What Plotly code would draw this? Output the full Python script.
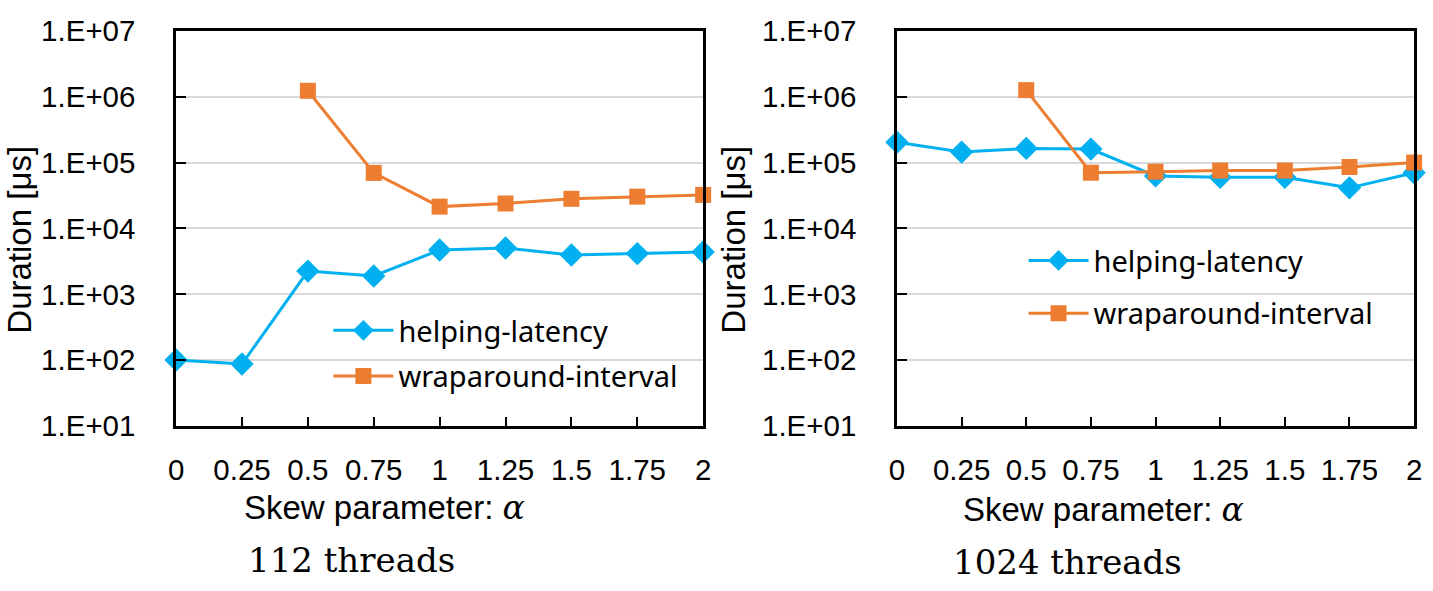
import plotly.graph_objects as go

alpha = [0, 0.25, 0.5, 0.75, 1, 1.25, 1.5, 1.75, 2]
alpha_labels = ["0", "0.25", "0.5", "0.75", "1", "1.25", "1.5", "1.75", "2"]

# 112 threads
help_112 = [100, 87, 2250, 1900, 4700, 5050, 3950, 4150, 4400]
wrap_112 = [None, None, 1240000, 70000, 21500, 24000, 28300, 30500, 32400]

# 1024 threads
help_1024 = [205000, 145000, 165000, 161000, 63000, 60000, 60000, 41500, 70500]
wrap_1024 = [None, None, 1270000, 70500, 73000, 76000, 76000, 86000, 100500]

y_tickvals = [1e1, 1e2, 1e3, 1e4, 1e5, 1e6, 1e7]
y_ticktext = ["1.E+01", "1.E+02", "1.E+03", "1.E+04", "1.E+05", "1.E+06", "1.E+07"]

BLUE = "#00B0F0"
ORANGE = "#ED7D31"
W, H = 1433, 591
SANS = "Liberation Sans, Arial, sans-serif"

fig = go.Figure()

def add_series(x, y, name, color, symbol, size, xa, ya, legend, group):
    fig.add_trace(go.Scatter(
        x=x, y=y, name=name, mode="lines+markers",
        line=dict(color=color, width=3),
        marker=dict(color=color, symbol=symbol, size=size),
        xaxis=xa, yaxis=ya, legend=legend, legendgroup=group,
        cliponaxis=False, connectgaps=False,
    ))

add_series(alpha, help_112, "helping-latency", BLUE, "diamond", 18, "x", "y", "legend", "a1")
add_series(alpha, wrap_112, "wraparound-interval", ORANGE, "square", 16, "x", "y", "legend", "b1")
add_series(alpha, help_1024, "helping-latency", BLUE, "diamond", 18, "x2", "y2", "legend2", "a2")
add_series(alpha, wrap_1024, "wraparound-interval", ORANGE, "square", 16, "x2", "y2", "legend2", "b2")

tick_font = dict(family=SANS, size=29.5, color="black")

def xaxis_cfg(domain, anchor):
    return dict(
        domain=domain, anchor=anchor, range=[0, 2],
        tickvals=alpha, ticktext=alpha_labels, tickfont=tick_font,
        ticks="inside", ticklen=9, tickwidth=2, tickcolor="black",
        showline=True, linecolor="black", linewidth=2.5, mirror=True,
        showgrid=False, zeroline=False, ticklabelstandoff=16,
        ticklabeloverflow="allow",
    )

def yaxis_cfg(domain, anchor):
    return dict(
        domain=domain, anchor=anchor, type="log", range=[1, 7],
        tickvals=y_tickvals, ticktext=y_ticktext, tickfont=tick_font,
        ticks="inside", ticklen=10, tickwidth=2, tickcolor="black",
        showline=True, linecolor="black", linewidth=2.5, mirror=True,
        showgrid=True, gridcolor="#D9D9D9", gridwidth=2, zeroline=False,
        ticklabelstandoff=32, ticklabeloverflow="allow",
    )

ydom = [1 - 433 / H, 1 - 15 / H]
legend_font = dict(family="Noto Sans, sans-serif", size=29, color="black")
fig.update_layout(
    width=W, height=H,
    margin=dict(l=0, r=0, t=0, b=0),
    paper_bgcolor="white", plot_bgcolor="white",
    xaxis=xaxis_cfg([170 / W, 703 / W], "y"),
    yaxis=yaxis_cfg(ydom, "x"),
    xaxis2=xaxis_cfg([899 / W, 1422 / W], "y2"),
    yaxis2=yaxis_cfg(ydom, "x2"),
    legend=dict(
        x=324 / W, y=1 - 305 / H, xanchor="left", yanchor="top",
        bgcolor="rgba(0,0,0,0)", font=legend_font,
        itemwidth=60, tracegroupgap=5,
    ),
    legend2=dict(
        x=1027 / W, y=1 - 231 / H, xanchor="left", yanchor="top",
        bgcolor="rgba(0,0,0,0)", font=legend_font,
        itemwidth=60, tracegroupgap=12,
    ),
    showlegend=True,
)

ann_common = dict(xref="paper", yref="paper", showarrow=False)
alpha_html = "Skew parameter: <span style='font-family:DejaVu Serif'><i>α</i></span>"
for cx, cy in [(381, 520), (1108, 522)]:
    fig.add_annotation(x=cx / W, y=1 - cy / H, text=alpha_html, xanchor="center", yanchor="middle",
                       font=dict(family=SANS, size=33, color="black"), **ann_common)
for cx, cy in [(12, 236), (734, 236)]:
    fig.add_annotation(x=cx / W, y=1 - cy / H, text="Duration [μs]", textangle=-90,
                       xanchor="center", yanchor="middle",
                       font=dict(family=SANS, size=33, color="black"), **ann_common)
for cx, cy, t in [(347, 575, "112 threads"), (1071, 577, "1024 threads")]:
    fig.add_annotation(x=cx / W, y=1 - cy / H, text=t, xanchor="center", yanchor="middle",
                       font=dict(family="DejaVu Serif, serif", size=34, color="black"), **ann_common)

fig.write_html("out.html")
